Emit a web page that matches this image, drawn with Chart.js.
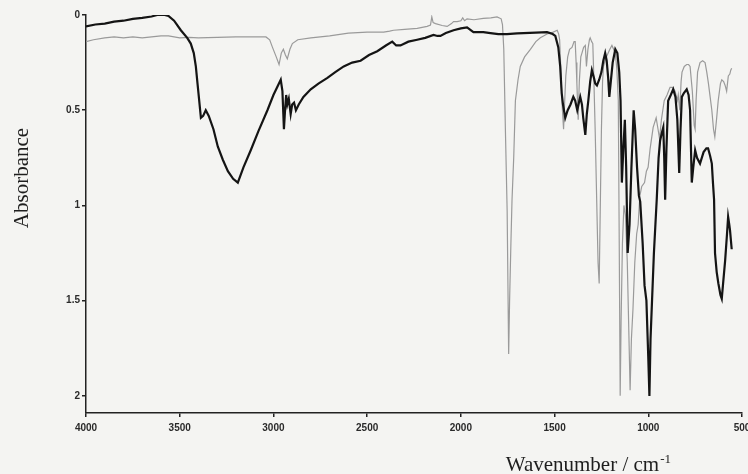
<!DOCTYPE html>
<html>
<head>
<meta charset="utf-8">
<script src="https://cdn.jsdelivr.net/npm/chart.js@4.4.1/dist/chart.umd.min.js"></script>
<style>
  html, body { margin: 0; padding: 0; background: #f4f4f2; }
  #wrap { width: 748px; height: 474px; }
</style>
</head>
<body>
<div id="wrap"><canvas id="c" width="748" height="474"></canvas></div>
<script>
// ---- Data ----
const xTickValues = [4000, 3500, 3000, 2500, 2000, 1500, 1000, 500];
const yTickValues = [0, 0.5, 1, 1.5, 2];

const blackWn = [4000,3950,3900,3850,3800,3750,3700,3650,3620,3580,3560,3530,3494,3460,3441,3425,3414,3405,3396,3387,3375,3361,3345,3320,3297,3270,3243,3215,3190,3160,3121,3080,3032,3000,2961,2952,2944,2938,2932,2926,2918,2908,2900,2890,2880,2865,2840,2801,2760,2712,2670,2625,2580,2535,2490,2446,2400,2366,2345,2322,2280,2233,2190,2146,2125,2109,2080,2039,2000,1967,1933,1880,1842,1800,1754,1700,1666,1600,1540,1510,1496,1480,1470,1462,1455,1443,1430,1415,1400,1390,1379,1370,1363,1354,1347,1336,1328,1320,1310,1301,1290,1283,1274,1262,1250,1240,1230,1222,1214,1208,1200,1190,1176,1165,1155,1148,1141,1133,1125,1118,1110,1100,1090,1078,1070,1060,1050,1043,1030,1020,1010,1000,994,988,980,970,962,955,945,937,928,920,915,910,903,894,880,867,855,845,835,828,821,810,795,785,777,768,760,750,740,724,705,690,681,670,661,655,649,644,635,626,615,608,600,590,580,574,568,564,555];
const blackAbs = [0.06,0.05,0.045,0.035,0.03,0.02,0.015,0.008,0.0,0.0,0.005,0.03,0.08,0.12,0.15,0.2,0.27,0.36,0.45,0.54,0.53,0.5,0.53,0.6,0.69,0.76,0.82,0.86,0.88,0.8,0.71,0.61,0.5,0.42,0.34,0.4,0.6,0.5,0.42,0.47,0.44,0.52,0.47,0.46,0.5,0.47,0.43,0.39,0.36,0.33,0.3,0.27,0.25,0.24,0.21,0.19,0.16,0.14,0.16,0.16,0.14,0.13,0.12,0.105,0.11,0.11,0.095,0.08,0.07,0.065,0.09,0.09,0.095,0.1,0.1,0.097,0.095,0.093,0.09,0.1,0.11,0.17,0.27,0.41,0.47,0.54,0.5,0.47,0.43,0.45,0.5,0.46,0.43,0.47,0.54,0.63,0.52,0.45,0.35,0.29,0.33,0.36,0.37,0.34,0.3,0.24,0.2,0.24,0.33,0.43,0.35,0.25,0.18,0.2,0.3,0.45,0.88,0.7,0.55,0.8,1.25,1.1,0.8,0.5,0.6,0.8,0.95,0.98,1.2,1.42,1.5,1.8,2.0,1.7,1.5,1.25,1.1,0.97,0.75,0.66,0.62,0.59,0.75,0.97,0.7,0.45,0.42,0.39,0.43,0.55,0.83,0.6,0.43,0.41,0.39,0.42,0.5,0.88,0.8,0.71,0.75,0.78,0.72,0.7,0.7,0.74,0.78,0.88,0.97,1.25,1.35,1.41,1.47,1.49,1.4,1.29,1.15,1.06,1.1,1.13,1.23];

const greyWn = [4000,3960,3900,3850,3800,3750,3700,3650,3600,3560,3500,3450,3400,3300,3200,3100,3040,3020,3005,2985,2970,2958,2947,2936,2926,2912,2899,2870,2800,2700,2600,2500,2412,2380,2359,2300,2233,2180,2162,2155,2148,2135,2100,2073,2050,2039,2020,2000,1990,1980,1967,1930,1880,1840,1807,1785,1778,1771,1762,1753,1745,1740,1733,1727,1718,1709,1695,1683,1660,1629,1600,1576,1540,1507,1486,1478,1473,1466,1461,1452,1446,1440,1430,1420,1407,1396,1390,1385,1381,1374,1368,1360,1354,1345,1336,1330,1322,1314,1310,1302,1296,1290,1283,1274,1268,1262,1256,1250,1244,1239,1228,1214,1205,1194,1185,1176,1168,1160,1155,1150,1145,1138,1130,1122,1112,1103,1097,1090,1082,1072,1062,1054,1045,1035,1020,1010,1001,990,974,958,948,940,930,915,900,884,870,857,845,840,832,825,820,808,795,785,777,765,755,750,745,737,724,710,697,688,679,670,661,652,645,636,627,615,608,598,590,582,573,565,560,555];
const greyAbs = [0.14,0.13,0.12,0.115,0.12,0.115,0.12,0.115,0.11,0.11,0.12,0.118,0.12,0.118,0.115,0.115,0.115,0.13,0.17,0.22,0.26,0.2,0.18,0.21,0.23,0.18,0.15,0.13,0.12,0.11,0.095,0.09,0.09,0.085,0.08,0.075,0.07,0.06,0.053,0.01,0.04,0.045,0.055,0.06,0.045,0.035,0.035,0.03,0.015,0.03,0.02,0.025,0.018,0.015,0.01,0.02,0.05,0.18,0.62,1.03,1.78,1.5,1.2,0.97,0.75,0.45,0.34,0.27,0.22,0.18,0.14,0.12,0.1,0.09,0.08,0.1,0.13,0.3,0.45,0.6,0.45,0.32,0.22,0.18,0.17,0.14,0.14,0.25,0.36,0.55,0.35,0.22,0.2,0.17,0.16,0.27,0.18,0.13,0.12,0.14,0.15,0.35,0.62,1.03,1.3,1.41,1.0,0.6,0.35,0.27,0.23,0.2,0.18,0.16,0.18,0.2,0.28,0.45,1.2,2.0,1.6,1.2,1.0,1.05,1.3,1.7,1.97,1.7,1.55,1.3,1.15,1.1,0.95,0.9,0.88,0.82,0.8,0.7,0.59,0.54,0.6,0.65,0.55,0.45,0.42,0.38,0.38,0.4,0.45,0.42,0.5,0.35,0.3,0.27,0.26,0.26,0.27,0.4,0.58,0.6,0.45,0.3,0.25,0.24,0.25,0.3,0.36,0.43,0.5,0.6,0.64,0.55,0.45,0.36,0.34,0.35,0.37,0.4,0.32,0.31,0.29,0.28];

const xTitleMain = 'Wavenumber / cm';
const xTitleSup = '-1';
const yTitle = 'Absorbance';

// ---- Build chart ----
const toPoints = (xs, ys) => xs.map((x, i) => ({ x: x, y: ys[i] }));

const titlePlugin = {
  id: 'axisTitles',
  afterDraw(chart) {
    const ctx = chart.ctx;
    ctx.save();
    ctx.fillStyle = '#1e1e1e';
    // y title
    ctx.font = '21px "Liberation Serif"';
    ctx.translate(22, 178);
    ctx.rotate(-Math.PI / 2);
    ctx.textAlign = 'center';
    ctx.textBaseline = 'middle';
    ctx.fillText(yTitle, 0, 0);
    ctx.setTransform(1, 0, 0, 1, 0, 0);
    // x title with superscript
    ctx.textAlign = 'left';
    ctx.textBaseline = 'alphabetic';
    ctx.font = '21px "Liberation Serif"';
    const wMain = ctx.measureText(xTitleMain).width;
    ctx.font = '13px "Liberation Serif"';
    const wSup = ctx.measureText(xTitleSup).width;
    const endX = 671;
    const startX = endX - wMain - wSup - 1;
    ctx.font = '21px "Liberation Serif"';
    ctx.fillText(xTitleMain, startX, 471);
    ctx.font = '13px "Liberation Serif"';
    ctx.fillText(xTitleSup, startX + wMain + 1, 463);
    ctx.restore();
  }
};

new Chart(document.getElementById('c'), {
  type: 'line',
  data: {
    datasets: [
      {
        label: 'black',
        data: toPoints(blackWn, blackAbs),
        borderColor: '#141414',
        borderWidth: 2.2,
        pointRadius: 0,
        tension: 0,
        fill: false
      },
      {
        label: 'grey',
        data: toPoints(greyWn, greyAbs),
        borderColor: '#9a9a9a',
        borderWidth: 1.2,
        pointRadius: 0,
        tension: 0,
        fill: false
      }
    ]
  },
  options: {
    responsive: false,
    animation: false,
    devicePixelRatio: 1,
    layout: { padding: { left: 0, right: 6, top: 15, bottom: 0 } },
    plugins: { legend: { display: false }, tooltip: { enabled: false }, title: { display: false } },
    scales: {
      x: {
        type: 'linear',
        reverse: true,
        min: 500,
        max: 4000,
        afterBuildTicks: (s) => { s.ticks = xTickValues.map(v => ({ value: v })); },
        afterFit: (s) => { s.height = 61; s.paddingLeft = 0; s.paddingRight = 0; },
        grid: { display: true, drawOnChartArea: false, drawTicks: true, tickLength: 4, color: '#222', lineWidth: 1.5 },
        border: { display: true, color: '#222', width: 1.5 },
        ticks: {
          autoSkip: false,
          maxRotation: 0,
          padding: 5,
          color: '#2a2a2a',
          font: { family: '"Liberation Sans"', size: 10, weight: 'bold' },
          callback: (v) => String(v)
        }
      },
      y: {
        type: 'linear',
        reverse: true,
        min: 0,
        max: 2.09,
        afterBuildTicks: (s) => { s.ticks = yTickValues.map(v => ({ value: v })); },
        afterFit: (s) => { s.width = 86; s.paddingTop = 0; s.paddingBottom = 0; },
        grid: { display: true, drawOnChartArea: false, drawTicks: true, tickLength: 4, color: '#222', lineWidth: 1.5 },
        border: { display: true, color: '#222', width: 1.5 },
        ticks: {
          autoSkip: false,
          padding: 2,
          color: '#2a2a2a',
          font: { family: '"Liberation Sans"', size: 10, weight: 'bold' },
          callback: (v) => String(v)
        }
      }
    }
  },
  plugins: [titlePlugin]
});
</script>
</body>
</html>
